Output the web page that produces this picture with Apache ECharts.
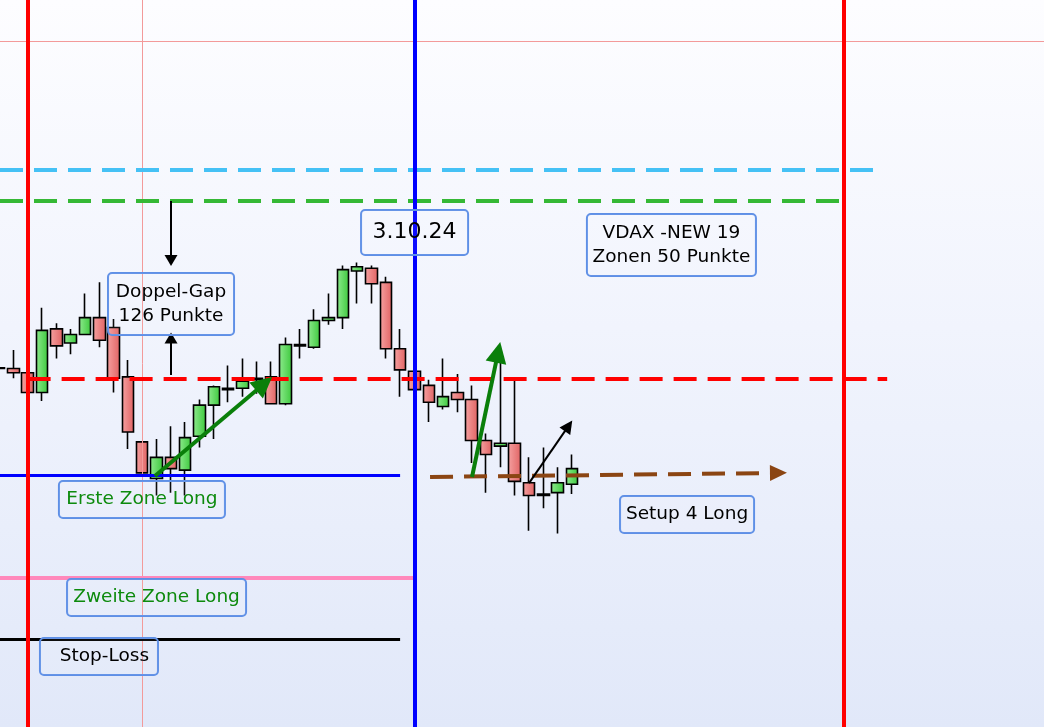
<!DOCTYPE html>
<html>
<head>
<meta charset="utf-8">
<script src="https://cdn.jsdelivr.net/npm/echarts@6/dist/echarts.min.js"></script>
<style>
html,body{margin:0;padding:0;background:#fff;}
#chart{width:1044px;height:727px;background:linear-gradient(to bottom,#FDFDFF 0%,#F1F4FD 45%,#E1E8F9 100%);}
</style>
</head>
<body>
<div id="chart"></div>
<script>
// ---- Candle data (index position, open, close, low, high) ----
const candleX     = [-1, 0, 1, 2, 3, 4, 5, 6, 7, 8, 9, 10, 11, 12, 13, 14, 15, 16, 17, 18, 19, 20, 21, 22, 23, 24, 25, 26, 27, 28, 29, 30, 31, 32, 33, 34, 35, 36, 37, 38, 39];
const candleOpen  = [19354, 19354, 19351, 19337, 19382, 19372, 19378, 19390, 19383, 19348, 19302, 19276, 19291, 19282, 19306, 19328, 19339, 19340, 19346, 19348, 19329, 19370, 19369, 19388, 19390, 19423, 19425, 19415, 19368, 19352, 19342, 19327, 19337, 19332, 19303, 19299, 19301, 19273, 19264, 19266, 19272];
const candleClose = [19354.5, 19351, 19337, 19381, 19370, 19378, 19390, 19374, 19347, 19309, 19280, 19291, 19283, 19305, 19328, 19341, 19340, 19345, 19347, 19329, 19371, 19371, 19388, 19390, 19424, 19426, 19414, 19368, 19353, 19339, 19330, 19334, 19332, 19303, 19293, 19301, 19274, 19264, 19265, 19273, 19283];
const candleLow   = [19353, 19347, 19336, 19331, 19361, 19364, 19378, 19369, 19337, 19297, 19280, 19264, 19266, 19264, 19298, 19304, 19330, 19334, 19336, 19329, 19328, 19361, 19368, 19385, 19382, 19400, 19400, 19361, 19334, 19339, 19316, 19325, 19323, 19287, 19266, 19284, 19264, 19239, 19255, 19237, 19265];
const candleHigh  = [19356, 19367, 19352, 19397, 19386, 19382, 19407, 19415, 19389, 19360, 19302, 19304, 19313, 19316, 19332, 19342, 19356, 19361, 19359, 19359, 19376, 19382, 19396, 19407, 19427, 19429, 19427, 19419, 19382, 19352, 19346, 19361, 19350, 19342, 19308, 19367, 19347, 19291, 19298, 19284, 19293];

// ---- Price levels ----
const levelCyan    = 19495;   // light blue dashed
const levelGreen   = 19473;   // green dashed (gap top)
const levelGapRed  = 19347;   // red dashed (gap bottom)
const levelZone1   = 19278;   // Erste Zone Long
const levelZone2   = 19206;   // Zweite Zone Long
const levelStop    = 19162;   // Stop-Loss
const crosshairY   = 19586;
const crosshairX   = 9;

// ---- Vertical markers (candle index) ----
const redLine1X = 1;
const dateLineX = 28;
const redLine2X = 58;

// ---- Axis ranges ----
const xMin = -0.928, xMax = 71.946;
const yMin = 19100, yMax = 19615;

const candles = candleX.map((x, i) => [x, candleOpen[i], candleClose[i], candleLow[i], candleHigh[i]]);

const FONT = 'DejaVu Sans';
const BOX_BORDER = '#5E8FE6';
const GREEN_TXT = '#0D8A0D';

function box(x, y, text, w, h, color, size, extra) {
  return Object.assign({
    coord: [x, y],
    symbol: 'rect',
    symbolSize: 1,
    itemStyle: { color: 'rgba(0,0,0,0)' },
    label: Object.assign({
      show: true,
      position: 'inside',
      formatter: text,
      color: color,
      fontFamily: FONT,
      fontSize: size,
      lineHeight: 24,
      width: w,
      height: h,
      align: 'center',
      verticalAlign: 'middle',
      borderColor: BOX_BORDER,
      borderWidth: 1,
      borderRadius: 4,
      backgroundColor: 'rgba(255,255,255,0.05)'
    }, extra || {})
  });
}

const thinPink = { color: '#F39A9A', width: 1, type: 'solid' };
const dash = [23, 11];

const markLineData = [
  { xAxis: crosshairX, lineStyle: thinPink },
  { yAxis: crosshairY, lineStyle: thinPink },
  [{ coord: [xMin, levelCyan], lineStyle: { color: '#45C1F5', width: 4, type: dash } }, { coord: [60.15, levelCyan] }],
  [{ coord: [xMin, levelGreen], lineStyle: { color: '#35B835', width: 4, type: dash } }, { coord: [57.7, levelGreen] }],
  [{ coord: [xMin, levelZone1], lineStyle: { color: '#0000FF', width: 3, type: 'solid' } }, { coord: [27, levelZone1] }],
  [{ coord: [xMin, levelZone2], lineStyle: { color: '#FF88BB', width: 4, type: 'solid' } }, { coord: [27.9, levelZone2] }],
  [{ coord: [xMin, levelStop], lineStyle: { color: '#000000', width: 3, type: 'solid' } }, { coord: [27, levelStop] }],
  { xAxis: redLine1X, lineStyle: { color: '#FF0000', width: 4, type: 'solid' } },
  { xAxis: redLine2X, lineStyle: { color: '#FF0000', width: 4, type: 'solid' } },
  [{ coord: [1, levelGapRed], lineStyle: { color: '#FF0000', width: 4, type: dash } }, { coord: [61, levelGapRed] }],
  { xAxis: dateLineX, lineStyle: { color: '#0000FF', width: 4, type: 'solid' } },
  // brown setup arrow
  [{ coord: [29.09, 19277.1], lineStyle: { color: '#8B4513', width: 4, type: dash } }, { coord: [53.41, 19280], symbol: 'triangle', symbolSize: [16, 17] }],
  // green arrows
  [{ coord: [9.89, 19277.8], lineStyle: { color: '#0A7F0A', width: 4, type: 'solid' } }, { coord: [17.51, 19343.1], symbol: 'triangle', symbolSize: [21, 21] }],
  [{ coord: [32.02, 19277.1], lineStyle: { color: '#0A7F0A', width: 4, type: 'solid' } }, { coord: [33.84, 19365.4], symbol: 'triangle', symbolSize: [21, 21] }],
  // black arrows
  [{ coord: [36.0, 19272.8], lineStyle: { color: '#000000', width: 2, type: 'solid' } }, { coord: [38.76, 19313.3], symbol: 'triangle', symbolSize: [13, 13] }],
  [{ coord: [11.01, 19472.6], lineStyle: { color: '#000000', width: 2, type: 'solid' } }, { coord: [11.01, 19430.5], symbol: 'triangle', symbolSize: [13, 11] }],
  [{ coord: [11.01, 19349.3], lineStyle: { color: '#000000', width: 2, type: 'solid' } }, { coord: [11.01, 19375.5], symbol: 'triangle', symbolSize: [13, 11] }]
];

const markPointData = [
  box(11.01, 19399.6, 'Doppel-Gap\n126 Punkte', 126, 62, '#000', 18.5),
  box(28.01, 19450.3, '3.10.24', 107, 45, '#000', 22),
  box(45.94, 19441.4, 'VDAX -NEW 19\nZonen 50 Punkte', 169, 62, '#000', 18.5),
  box(8.98, 19261.2, 'Erste Zone Long', 166, 37, GREEN_TXT, 18.5),
  box(10.0, 19191.7, 'Zweite Zone Long', 179, 37, GREEN_TXT, 18.5),
  box(5.98, 19149.9, 'Stop-Loss', 95, 37, '#000', 18.5, { padding: [0, 6, 0, 17] }),
  box(47.03, 19250.5, 'Setup 4 Long', 134, 37, '#000', 18.5)
];

const chart = echarts.init(document.getElementById('chart'), null, { renderer: 'canvas' });
chart.setOption({
  animation: false,
  backgroundColor: 'transparent',
  grid: { left: 0, right: 0, top: 0, bottom: 0, containLabel: false },
  xAxis: { type: 'value', min: xMin, max: xMax, show: false, splitLine: { show: false } },
  yAxis: { type: 'value', min: yMin, max: yMax, show: false, splitLine: { show: false }, scale: true },
  series: [{
    type: 'candlestick',
    data: candles,
    barWidth: 12,
    itemStyle: {
      color: { type: 'linear', x: 0, y: 0, x2: 1, y2: 0, colorStops: [{ offset: 0, color: '#8FEB8F' }, { offset: 1, color: '#3CC83C' }] },
      color0: { type: 'linear', x: 0, y: 0, x2: 1, y2: 0, colorStops: [{ offset: 0, color: '#F6A2A2' }, { offset: 1, color: '#E06262' }] },
      borderColor: '#000',
      borderColor0: '#000',
      borderWidth: 1.6
    },
    emphasis: { disabled: true },
    markLine: {
      silent: true,
      symbol: ['none', 'none'],
      label: { show: false },
      emphasis: { disabled: true },
      animation: false,
      data: markLineData
    },
    markPoint: {
      silent: true,
      animation: false,
      data: markPointData
    }
  }]
});
</script>
</body>
</html>
